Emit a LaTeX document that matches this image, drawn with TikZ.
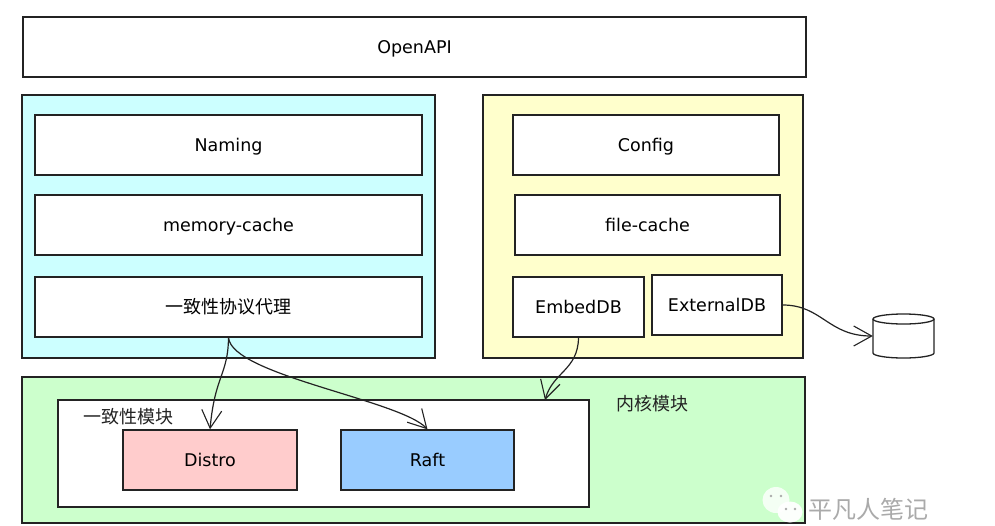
\documentclass[tikz,border=0pt]{standalone}
\usepackage{fontspec}
\setmainfont{DejaVu Sans}
\newfontfamily\cjk{Noto Sans CJK SC}
\usetikzlibrary{arrows.meta}
\definecolor{CyanClr}{RGB}{204,255,255}
\definecolor{YellowClr}{RGB}{255,255,204}
\definecolor{GreenClr}{RGB}{204,255,204}
\definecolor{PinkClr}{RGB}{255,204,204}
\definecolor{BlueClr}{RGB}{153,204,255}
\definecolor{LineClr}{RGB}{35,35,35}
\definecolor{MarkClr}{RGB}{170,170,170}
\tikzset{
  box/.style={draw=LineClr,line width=1.4pt,fill=white,inner sep=0pt,font=\fontsize{17.5}{20}\selectfont},
  namebox/.style={box,text height=14pt,text depth=1pt},
  link/.style={draw=LineClr,line width=1.2pt,-{Straight Barb[length=18pt,width=20pt,line width=1.1pt]}},
  tag/.style={inner sep=0pt,text=LineClr,font=\fontsize{18}{20}\selectfont\cjk}
}

\begin{document}
\begin{tikzpicture}[x=1pt,y=-1pt]
\useasboundingbox (0,0) rectangle (995,525);

\node[namebox,minimum width=783pt,minimum height=60pt] (openapi) at (414.5,47) {OpenAPI};

\node[box,fill=CyanClr,minimum width=413pt,minimum height=263pt] (left) at (228.5,226.5) {};
\node[namebox,minimum width=387pt,minimum height=60pt] (naming) at (228.5,145) {Naming};
\node[namebox,minimum width=387pt,minimum height=60pt] (memory) at (228.5,225) {memory-cache};
\node[box,minimum width=387pt,minimum height=60pt,font=\fontsize{18}{20}\selectfont\cjk] (proxy) at (228.5,307) {一致性协议代理};

\node[box,fill=YellowClr,minimum width=320pt,minimum height=263pt] (right) at (643,226.5) {};
\node[namebox,minimum width=266pt,minimum height=60pt] (config) at (646,145) {Config};
\node[namebox,minimum width=265pt,minimum height=60pt] (file) at (647.5,225) {file-cache};
\node[namebox,minimum width=131pt,minimum height=60pt] (embed) at (578.5,307) {EmbedDB};
\node[namebox,minimum width=130pt,minimum height=60pt] (external) at (717,305) {ExternalDB};

\node[box,fill=GreenClr,minimum width=783pt,minimum height=146pt] (kernel) at (413.5,450) {};
\node[box,minimum width=531pt,minimum height=107pt] (consist) at (323.5,453.5) {};
\node[namebox,fill=PinkClr,minimum width=174pt,minimum height=60pt] (distro) at (210,460) {Distro};
\node[namebox,fill=BlueClr,minimum width=173pt,minimum height=60pt] (raft) at (427.5,460) {Raft};
\node[tag] (consistlabel) at (128,417) {一致性模块};
\node[tag] (kernellabel) at (652,404) {内核模块};

% database
\node[minimum width=61pt,minimum height=44pt,inner sep=0pt] (store) at (903.5,336) {};
\draw[draw=LineClr,line width=1.3pt,fill=white] (873,319) -- (873,353)
  arc[start angle=180,end angle=360,x radius=30.5pt,y radius=5pt] -- (934,319);
\draw[draw=LineClr,line width=1.3pt,fill=white] (903.5,319) ellipse (30.5pt and 5pt);

\coordinate (kernelin) at (545,400);

\draw[link] (proxy.south) .. controls (228,375) and (215,375) .. (distro.north);
\draw[link] (proxy.south) .. controls (232,375) and (400,400) .. (raft.north);
\draw[link] (embed.south) .. controls (578,370) and (553,372) .. (kernelin);
\draw[link] (external.east) .. controls (822,305) and (828,336) .. (store.west);

% watermark
\fill[white,opacity=.8] (776,500) ellipse (13.5pt and 13pt);
\fill[white,opacity=.95] (790,512) ellipse (12.5pt and 10.5pt);
\fill[MarkClr] (771,496) circle (1.3pt) (781,496) circle (1.3pt);
\fill[MarkClr] (786,509) circle (1.3pt) (795,509) circle (1.3pt);
\node[inner sep=0pt,text=MarkClr,font=\fontsize{24}{26}\selectfont\cjk] (mark) at (868,509) {平凡人笔记};
\end{tikzpicture}
\end{document}
